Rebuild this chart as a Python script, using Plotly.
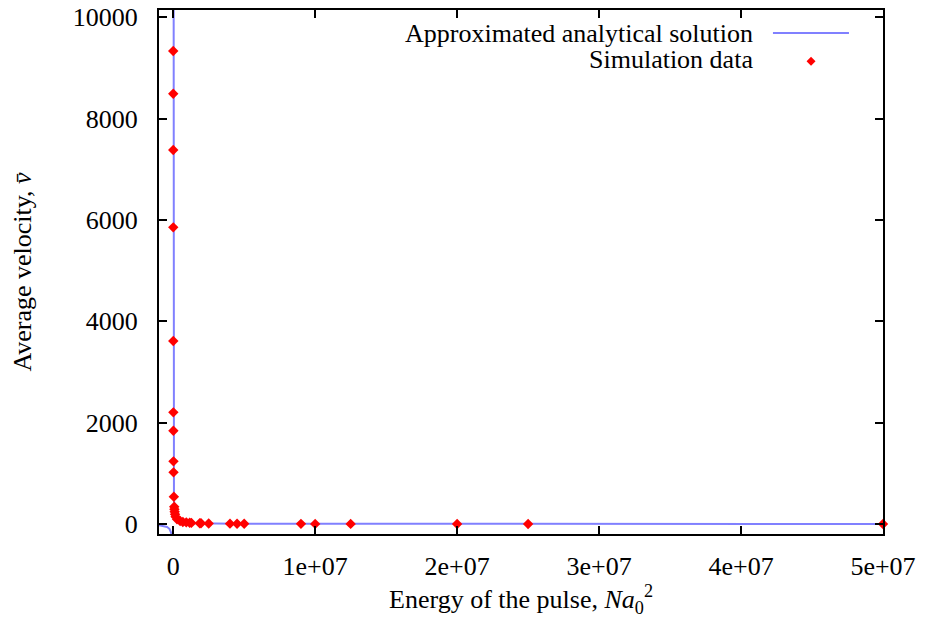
import numpy as np
import plotly.graph_objects as go

# ---- data ----
sim_energy = [2.7e3, 2.9e3, 3.4e3, 4.3e3, 6.9e3, 1.13e4, 1.36e4, 2.0e4, 2.45e4, 4.6e4,
              7.3e4, 8.6e4, 1.03e5, 1.3e5, 1.7e5, 2.7e5, 4.9e5, 6.8e5, 9.2e5, 1.16e6,
              1.28e6, 1.87e6, 1.96e6, 2.5e6, 4.0e6, 4.5e6, 5.0e6, 9.0e6, 1.0e7, 1.25e7,
              2.0e7, 2.5e7, 5.0e7]
sim_velocity = [9335, 8492, 7381, 5855, 3612, 2204, 1841, 1237, 1020, 539,
                341, 290, 243, 192, 145, 93, 59, 39, 33, 26,
                22, 15, 14, 11, 7, 6, 5, 3, 2.5, 2,
                1.2, 1, 0.5]

# approximated analytical solution  v = K / E
K_const = 2.5e7
x_ticks = [0, 1e7, 2e7, 3e7, 4e7, 5e7]
x_tick_labels = ["0", "1e+07", "2e+07", "3e+07", "4e+07", "5e+07"]
y_ticks = [0, 2000, 4000, 6000, 8000, 10000]
x_range = [-1e6, 5e7]
y_range = [-197, 10144]

neg = -np.geomspace(1e6, 1e3, 400)
pos = np.geomspace(1e3, 5e7, 800)
curve_x = np.concatenate([neg, [np.nan], pos])
curve_y = K_const / curve_x

FONT = "Liberation Serif"
LINE_COL = "#8080ff"

fig = go.Figure()
fig.add_trace(go.Scatter(x=curve_x, y=curve_y, mode="lines",
                         line=dict(color=LINE_COL, width=2), showlegend=False,
                         connectgaps=False))
fig.add_trace(go.Scatter(x=sim_energy, y=sim_velocity, mode="markers",
                         marker=dict(symbol="diamond", color="red", size=8,
                                     line=dict(width=0)),
                         showlegend=False, cliponaxis=False))

axis_common = dict(showgrid=False, zeroline=False, showline=True, linecolor="black",
                   linewidth=2, mirror="ticks", ticks="inside", ticklen=8,
                   tickwidth=1.5, tickcolor="black", automargin=False,
                   ticklabeloverflow="allow",
                   tickfont=dict(family=FONT, size=26, color="black"))

fig.update_xaxes(range=x_range, tickvals=x_ticks, ticktext=x_tick_labels,
                 ticklabelstandoff=8,
                 title=dict(text="Energy of the pulse, <i>Na</i><sub>0</sub><sup>2</sup>",
                            font=dict(family=FONT, size=26, color="black"), standoff=4),
                 **axis_common)
fig.update_yaxes(range=y_range, tickvals=y_ticks, ticktext=[str(v) for v in y_ticks],
                 ticklabelstandoff=14,
                 title=dict(text="Average velocity, <i>v\u0304</i>",
                            font=dict(family=FONT, size=26, color="black"), standoff=46),
                 **axis_common)

# gnuplot-style legend (text right-aligned, sample on the right)
fig.add_annotation(xref="paper", yref="paper", x=0.823, y=0.956, xanchor="right",
                   yanchor="middle", showarrow=False, text="Approximated analytical solution",
                   font=dict(family=FONT, size=26, color="black"))
fig.add_annotation(xref="paper", yref="paper", x=0.823, y=0.905, xanchor="right",
                   yanchor="middle", showarrow=False, text="Simulation data",
                   font=dict(family=FONT, size=26, color="black"))
fig.add_shape(type="line", xref="paper", yref="paper", x0=0.848, x1=0.953,
              y0=0.956, y1=0.956, line=dict(color=LINE_COL, width=2))
fig.add_shape(type="path", xref="paper", yref="paper", xsizemode="pixel",
              ysizemode="pixel", xanchor=0.9006, yanchor=0.902,
              path="M0,4.5 L4.5,0 L0,-4.5 L-4.5,0 Z", fillcolor="red",
              line=dict(width=0))

fig.update_layout(width=932, height=625, plot_bgcolor="white", paper_bgcolor="white",
                  margin=dict(l=151, r=57, t=2, b=99), showlegend=False)

fig.write_html("out.html")
